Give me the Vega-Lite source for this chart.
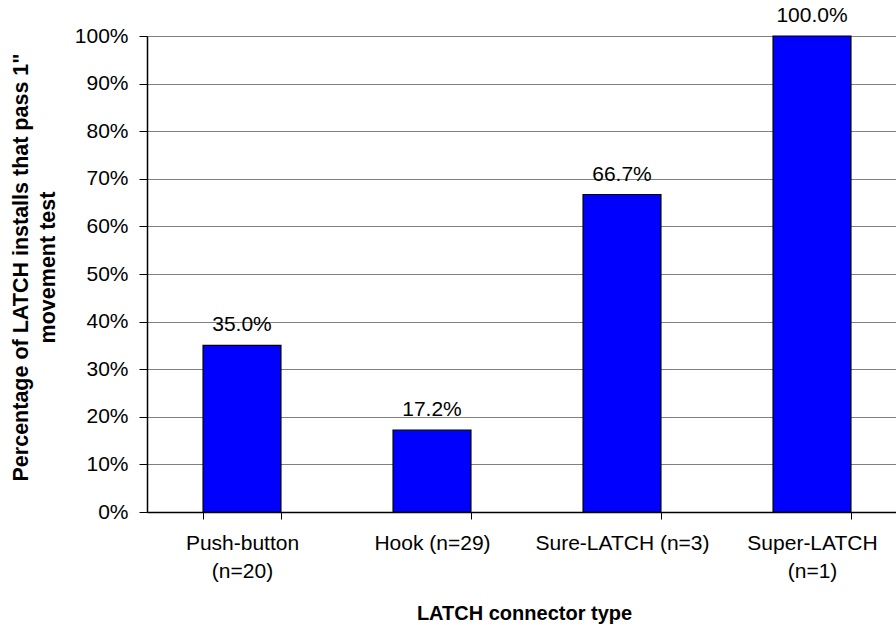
{
  "$schema": "https://vega.github.io/schema/vega-lite/v6.json",
  "autosize": {"type": "none"},
  "width": 749,
  "height": 476,
  "padding": {"left": 147, "top": 36, "right": 0, "bottom": 113},
  "background": "white",
  "config": {
    "font": "Liberation Sans",
    "view": {"stroke": null},
    "axis": {"labelFont": "Liberation Sans", "titleFont": "Liberation Sans"}
  },
  "data": {
    "values": [
      {"type": "Push-button|(n=20)", "pct": 0.35, "lbl": "35.0%"},
      {"type": "Hook (n=29)", "pct": 0.172, "lbl": "17.2%"},
      {"type": "Sure-LATCH (n=3)", "pct": 0.667, "lbl": "66.7%"},
      {"type": "Super-LATCH|(n=1)", "pct": 1.0, "lbl": "100.0%"}
    ]
  },
  "encoding": {
    "x": {
      "field": "type",
      "type": "nominal",
      "sort": null,
      "scale": {"range": [0, 760], "paddingInner": 0.59, "paddingOuter": 0.295},
      "axis": {
        "title": "LATCH connector type",
        "titleFontSize": 20,
        "titleFontWeight": "bold",
        "titleColor": "black",
        "titlePadding": 22,
        "titleX": 377,
        "labelAngle": 0,
        "labelFontSize": 21,
        "labelColor": "black",
        "labelPadding": 13,
        "labelLineHeight": 28,
        "labelExpr": "split(datum.label, '|')",
        "tickBand": "extent",
        "tickSize": 7,
        "tickColor": "black",
        "domainColor": "black",
        "domainWidth": 1.5,
        "grid": false
      }
    },
    "y": {
      "field": "pct",
      "type": "quantitative",
      "scale": {"domain": [0, 1], "nice": false},
      "axis": {
        "title": ["Percentage of LATCH installs that pass 1\"", "movement test"],
        "titleFontSize": 21.5,
        "titleFontWeight": "bold",
        "titleColor": "black",
        "titleLineHeight": 27,
        "titlePadding": 15,
        "titleY": 231,
        "format": ".0%",
        "values": [0, 0.1, 0.2, 0.3, 0.4, 0.5, 0.6, 0.7, 0.8, 0.9, 1.0],
        "labelFontSize": 21,
        "labelColor": "black",
        "labelPadding": 11,
        "tickSize": 8,
        "tickColor": "black",
        "domainColor": "black",
        "domainWidth": 1.5,
        "grid": true,
        "gridColor": "#808080",
        "gridOpacity": 1,
        "gridWidth": 1
      }
    }
  },
  "layer": [
    {
      "mark": {"type": "bar", "color": "#0000FF", "stroke": "black", "strokeWidth": 1.2}
    },
    {
      "mark": {"type": "text", "baseline": "bottom", "dy": -10, "fontSize": 21, "color": "black", "font": "Liberation Sans"},
      "encoding": {"text": {"field": "lbl"}}
    }
  ]
}
